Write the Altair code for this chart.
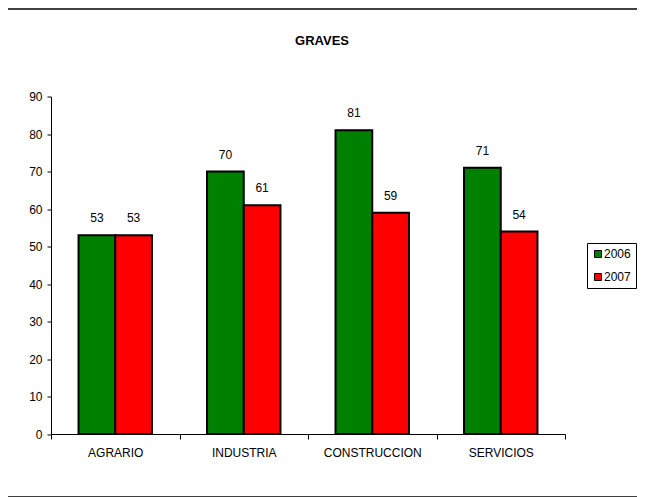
import altair as alt
import pandas as pd

categories = ["AGRARIO", "INDUSTRIA", "CONSTRUCCION", "SERVICIOS"]
years = ["2006", "2007"]
values_2006 = [53, 70, 81, 71]
values_2007 = [53, 61, 59, 54]
y_ticks = [0, 10, 20, 30, 40, 50, 60, 70, 80, 90]
bar_colors = ["#008000", "#FF0000"]
title_text = "GRAVES"

rows = []
for c, a, b in zip(categories, values_2006, values_2007):
    rows.append({"cat": c, "year": years[0], "value": a})
    rows.append({"cat": c, "year": years[1], "value": b})
df = pd.DataFrame(rows)

FONT = "Liberation Sans"
W, H = 514, 337.5
PL, PT, PR, PB = 43, 88.5, 72, 64

x_enc = alt.X(
    "cat:N",
    sort=categories,
    scale=alt.Scale(paddingInner=0, paddingOuter=0),
    axis=alt.Axis(
        title=None, labelAngle=0, tickBand="extent", tickSize=5,
        labelPadding=8, labelFontSize=12, labelFont=FONT, labelColor="black",
        domainColor="black", tickColor="black",
    ),
)
xo_enc = alt.XOffset(
    "year:N", sort=years, scale=alt.Scale(paddingInner=0, paddingOuter=0.75)
)
y_enc = alt.Y(
    "value:Q",
    scale=alt.Scale(domain=[0, 90], nice=False),
    axis=alt.Axis(
        title=None, values=y_ticks, grid=False, tickSize=4, labelPadding=5,
        labelFontSize=12, labelFont=FONT, labelColor="black",
        labelOverlap=False, domainColor="black", tickColor="black",
    ),
)

base = alt.Chart(df).encode(x=x_enc, xOffset=xo_enc, y=y_enc)

bars = base.mark_bar(stroke="black", strokeWidth=2).encode(
    color=alt.Color(
        "year:N",
        sort=years,
        scale=alt.Scale(domain=years, range=bar_colors),
        legend=alt.Legend(
            title=None, orient="none", legendX=536, legendY=146.5,
            symbolType="square", symbolSize=49, symbolStrokeColor="black",
            symbolStrokeWidth=1, labelFontSize=12, labelFont=FONT,
            labelColor="black", strokeColor="black", fillColor="white",
            padding=5, rowPadding=11, labelOffset=0, labelLimit=200,
        ),
    ),
)

labels = base.mark_text(
    dy=-17, baseline="middle", fontSize=12, font=FONT, color="black"
).encode(
    text=alt.Text("value:Q"),
)

one = pd.DataFrame({"t": [title_text]})
title = alt.Chart(one).mark_text(
    fontSize=13, fontWeight="bold", font=FONT, color="black", baseline="middle"
).encode(
    x=alt.value(322 - 8 - PL),
    y=alt.value(41 - 8 - PT),
    text="t:N",
)

top_line = alt.Chart(one).mark_rule(color="black", strokeWidth=1.5).encode(
    x=alt.value(-PL), x2=alt.value(W + PR), y=alt.value(-PT + 1)
)
bottom_line = alt.Chart(one).mark_rule(color="black", strokeWidth=1.5).encode(
    x=alt.value(-PL), x2=alt.value(W + PR), y=alt.value(489 - PT)
)

chart = alt.layer(bars, labels, title, top_line, bottom_line).properties(
    width=W,
    height=H,
    autosize=alt.AutoSizeParams(type="none"),
    padding={"left": PL, "top": PT, "right": PR, "bottom": PB},
).configure(background="white").configure_view(strokeWidth=0, stroke="transparent")

chart.save("out.html", embed_options={"renderer": "svg", "actions": False})
